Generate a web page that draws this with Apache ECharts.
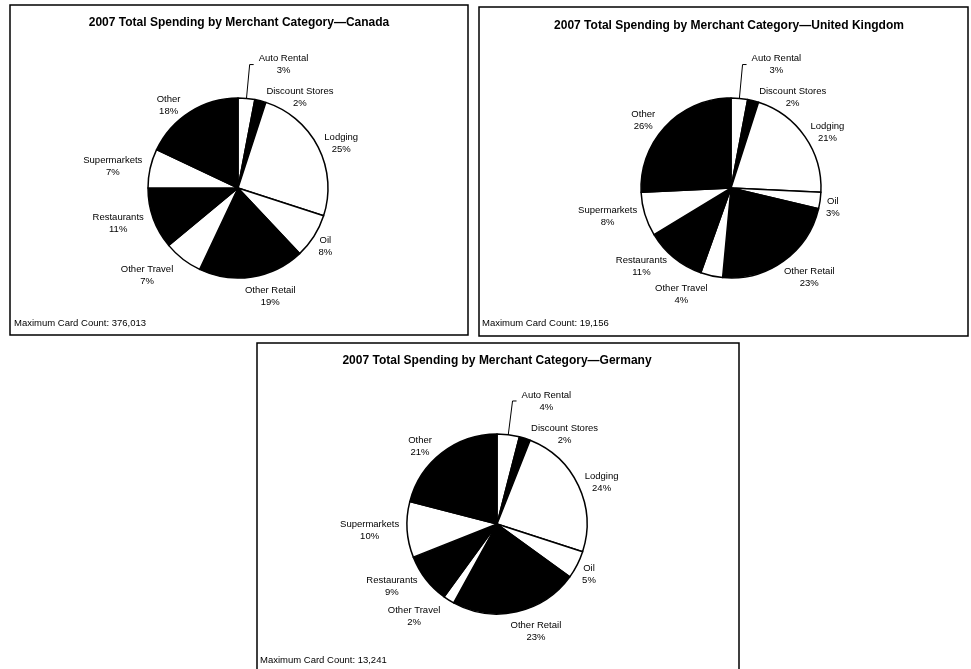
<!DOCTYPE html>
<html>
<head>
<meta charset="utf-8">
<script src="https://cdn.jsdelivr.net/npm/echarts@6/dist/echarts.min.js"></script>
<style>
  html, body { margin: 0; padding: 0; background: #fff; }
  #chart { width: 971px; height: 669px; }
</style>
</head>
<body>
<div id="chart"></div>
<script>
// ---- data ----
const categories = ['Auto Rental', 'Discount Stores', 'Lodging', 'Oil', 'Other Retail', 'Other Travel', 'Restaurants', 'Supermarkets', 'Other'];
const canadaValues  = [3, 2, 25, 8, 19, 7, 11, 7, 18];
const ukValues      = [3, 2, 21, 3, 23, 4, 11, 8, 26];
const germanyValues = [4, 2, 24, 5, 23, 2, 9, 10, 21];
const titles = [
  '2007 Total Spending by Merchant Category\u2014Canada',
  '2007 Total Spending by Merchant Category\u2014United Kingdom',
  '2007 Total Spending by Merchant Category\u2014Germany'
];
const cardCounts = ['Maximum Card Count: 376,013', 'Maximum Card Count: 19,156', 'Maximum Card Count: 13,241'];

// ---- styles ----
const sliceColors = ['#ffffff', '#000000', '#ffffff', '#ffffff', '#000000', '#ffffff', '#000000', '#ffffff', '#000000'];
const FONT = 'Liberation Sans, Arial, sans-serif';
const labelLineLen = { 'Auto Rental': 34, 'Discount Stores': 4, 'Oil': 10, 'Other Retail': 18, 'Other Travel': 14 };
const DEFAULT_LEN = 8;
// small nudges of label text (relative to library-computed position)
const labelNudge = {
  'Lodging': [-6, 0],
  'Oil': [-9, 5],
  'Other Retail': [-15, 2],
  'Other Travel': [4, 5],
  'Restaurants': [3, 2],
  'Supermarkets': [5, 0]
};

const panels = [
  { box: [10, 5, 458, 330], center: [238, 188], title: [239, 17], note: [14, 318] },
  { box: [479, 7, 489, 329], center: [731, 188], title: [729, 20], note: [482, 318] },
  { box: [257, 343, 482, 330], center: [497, 524], title: [497, 355], note: [260, 655] }
];
const valueSets = [canadaValues, ukValues, germanyValues];

function buildData(values) {
  return categories.map((name, i) => {
    const len = labelLineLen[name] !== undefined ? labelLineLen[name] : DEFAULT_LEN;
    const item = {
      name: name,
      value: values[i],
      itemStyle: { color: sliceColors[i] },
      labelLine: { show: false, length: len, length2: 0 }
    };
    if (name === 'Auto Rental') {
      item.labelLine = { show: true, length: len, length2: 4, lineStyle: { color: '#000', width: 1 } };
    }
    return item;
  });
}

const series = panels.map((p, k) => ({
  type: 'pie',
  center: p.center,
  radius: 90,
  startAngle: 90,
  clockwise: true,
  avoidLabelOverlap: true,
  data: buildData(valueSets[k]),
  itemStyle: { borderColor: '#000', borderWidth: 1.5 },
  label: {
    show: true,
    position: 'outside',
    formatter: '{n|{b}}\n{n|{c}%}',
    color: '#000',
    fontFamily: FONT,
    rich: { n: { align: 'center', fontSize: 9.5, lineHeight: 12, fontFamily: FONT, color: '#000' } }
  },
  labelLine: { show: false, length: DEFAULT_LEN, length2: 0 },
  labelLayout: function (params) {
    const n = labelNudge[categories[params.dataIndex]];
    return n ? { dx: n[0], dy: n[1] } : {};
  },
  emphasis: { disabled: true },
  animation: false
}));

const graphics = [];
panels.forEach((p, k) => {
  graphics.push({
    type: 'rect', silent: true,
    shape: { x: p.box[0], y: p.box[1], width: p.box[2], height: p.box[3] },
    style: { fill: 'none', stroke: '#000', lineWidth: 1.5 }
  });
  graphics.push({
    type: 'text', silent: true,
    x: p.title[0], y: p.title[1],
    style: { text: titles[k], font: 'bold 12px ' + FONT, fill: '#000', textAlign: 'center' }
  });
  graphics.push({
    type: 'text', silent: true,
    x: p.note[0], y: p.note[1],
    style: { text: cardCounts[k], font: '9.5px ' + FONT, fill: '#000', textAlign: 'left' }
  });
});

const chart = echarts.init(document.getElementById('chart'), null, { renderer: 'canvas' });
chart.setOption({
  backgroundColor: '#ffffff',
  animation: false,
  series: series,
  graphic: graphics
});
</script>
</body>
</html>
